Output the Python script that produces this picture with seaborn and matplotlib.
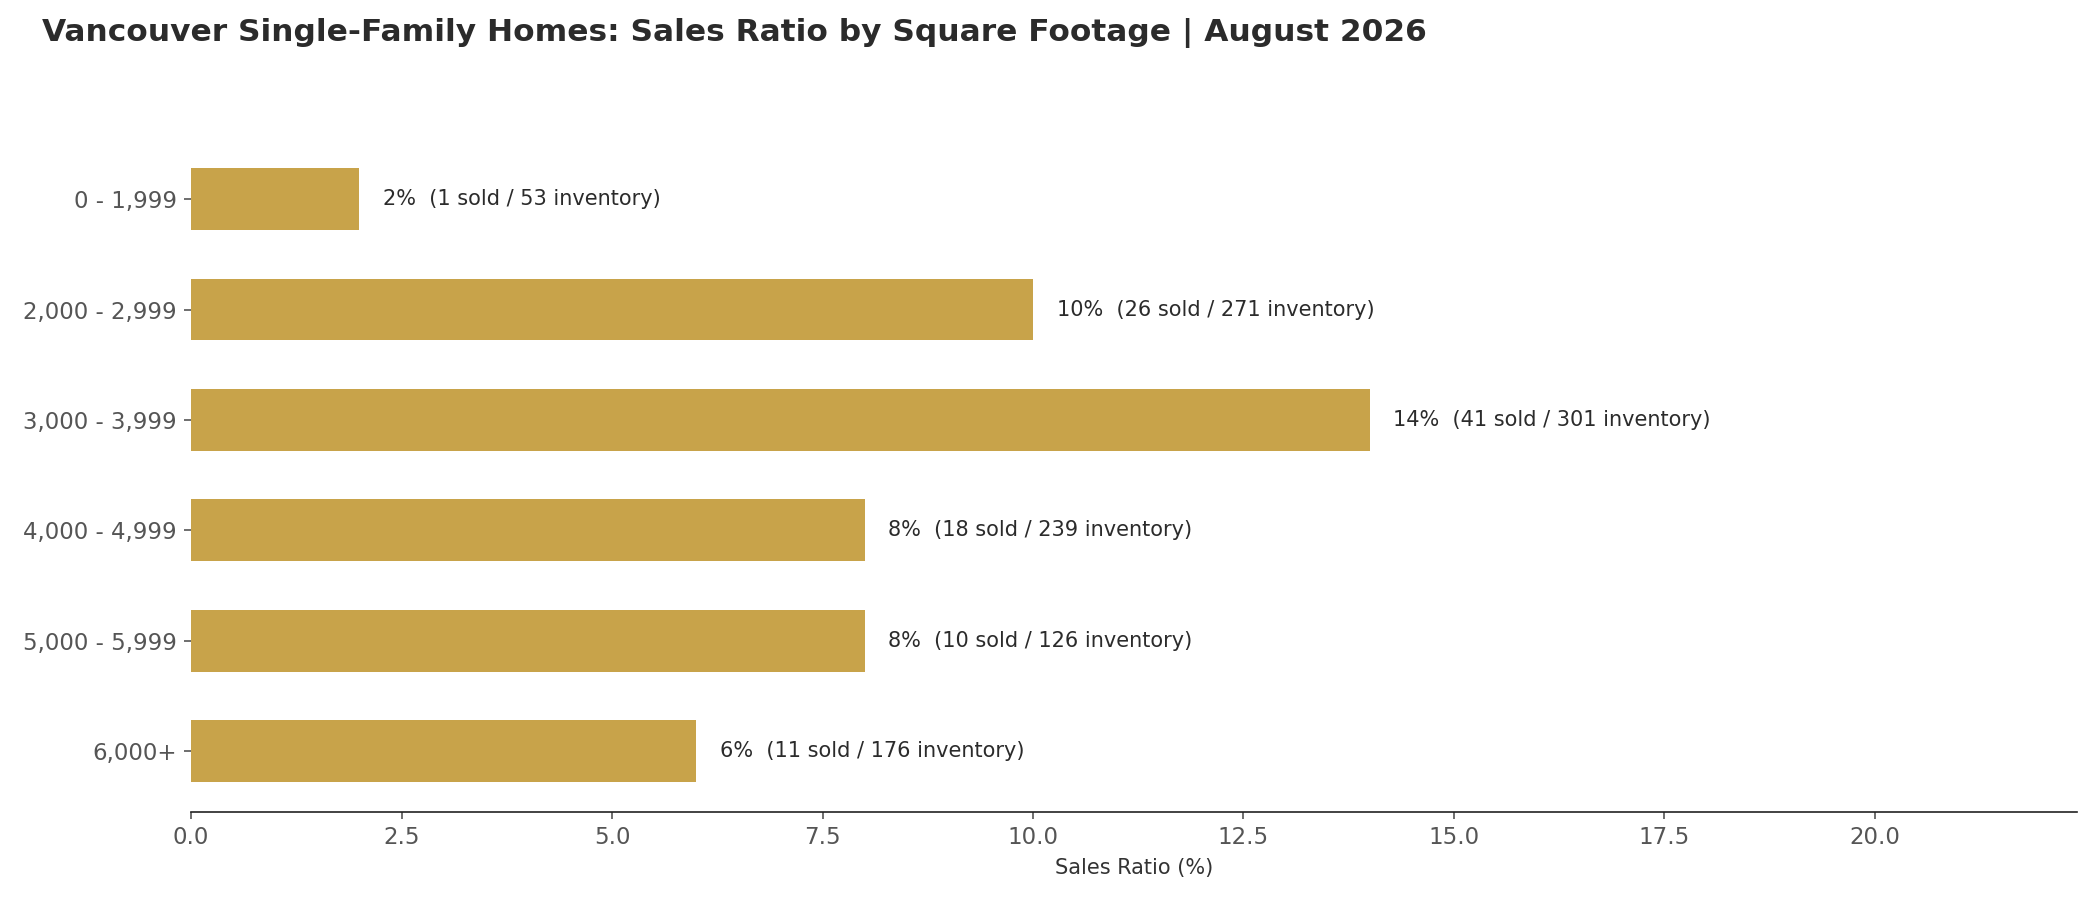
import matplotlib
matplotlib.use("Agg")
import matplotlib.pyplot as plt
import seaborn as sns
import pandas as pd

# data
sqft_ranges = ["0 - 1,999", "2,000 - 2,999", "3,000 - 3,999",
               "4,000 - 4,999", "5,000 - 5,999", "6,000+"]
sales_ratio = [2, 10, 14, 8, 8, 6]
sold = [1, 26, 41, 18, 10, 11]
inventory = [53, 271, 301, 239, 126, 176]

df = pd.DataFrame({"range": sqft_ranges, "ratio": sales_ratio,
                   "sold": sold, "inventory": inventory})

sns.set_style("ticks")
plt.rcParams["font.family"] = ["DejaVu Sans"]

fig, ax = plt.subplots(figsize=(14, 6), dpi=150)
fig.subplots_adjust(left=0.091, right=0.989, bottom=0.098, top=0.84)

sns.barplot(data=df, x="ratio", y="range", color="#C8A34A", width=0.56,
            saturation=1, ax=ax)
# no outline on the bars
for bar in ax.patches:
    bar.set_edgecolor("#C8A34A")
    bar.set_linewidth(0)

for i, row in df.iterrows():
    ax.text(row["ratio"] + 0.28, i,
            f"{row['ratio']}%  ({row['sold']} sold / {row['inventory']} inventory)",
            va="center", ha="left", fontsize=10, color="#2b2b2b")

ax.set_xlim(0, max(sales_ratio) * 1.6)
ax.set_ylim(5.55, -0.5)
ax.set_xlabel("Sales Ratio (%)", fontsize=10, color="#333333")
ax.set_ylabel("")
ax.tick_params(axis="both", labelsize=11, labelcolor="#555555", color="#555555")
sns.despine(ax=ax, left=True)
ax.spines["bottom"].set_color("#222222")

fig.suptitle("Vancouver Single-Family Homes: Sales Ratio by Square Footage | August 2026",
             x=0.02, y=0.98, ha="left", va="top", fontsize=15,
             fontweight="bold", color="#2b2b2b")

fig.savefig("out.png", dpi=150)
